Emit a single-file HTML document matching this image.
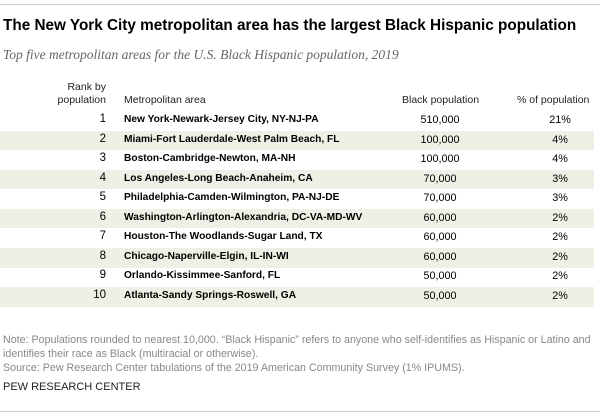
<!DOCTYPE html>
<html><head><meta charset="utf-8"><style>
body{margin:0;width:600px;height:416px;background:#fff;font-family:"Liberation Sans",sans-serif;position:relative;overflow:hidden}
.a{position:absolute;white-space:nowrap}
.hr{position:absolute;left:0;width:600px;height:1px;background:#ccc}
.row{position:absolute;left:0;width:594px;height:19.6px;font-size:10.8px;color:#000}
.row.s{background:#efefe6}
.row span{position:absolute;top:3px}
.hd{font-size:10.5px;color:#222}
.n{font-size:10.7px;color:#888}
</style></head><body>
<div class="hr" style="top:4px"></div>
<div class="a" style="left:3px;top:17px;font-size:15.3px;font-weight:bold;color:#000">The New York City metropolitan area has the largest Black Hispanic population</div>
<div class="a" style="left:3px;top:47px;font-size:13.5px;font-style:italic;color:#666;font-family:'Liberation Serif',serif">Top five metropolitan areas for the U.S. Black Hispanic population, 2019</div>
<div class="a hd" style="right:494px;top:81px;text-align:right;line-height:13px">Rank by<br>population</div>
<div class="a hd" style="left:124px;top:94px">Metropolitan area</div>
<div class="a hd" style="left:402px;top:94px">Black population</div>
<div class="a hd" style="left:517px;top:94px">% of population</div>
<div id="tbl"></div>
<div class="a n" style="left:3px;top:333px;line-height:14px">Note: Populations rounded to nearest 10,000. “Black Hispanic” refers to anyone who self-identifies as Hispanic or Latino and<br>identifies their race as Black (multiracial or otherwise).<br>Source: Pew Research Center tabulations of the 2019 American Community Survey (1% IPUMS).</div>
<div class="a" style="left:3px;top:381px;font-size:11px;color:#222">PEW RESEARCH CENTER</div>
<div class="hr" style="top:411px"></div>
<script>
const ranks=[1,2,3,4,5,6,7,8,9,10];
const metros=["New York-Newark-Jersey City, NY-NJ-PA","Miami-Fort Lauderdale-West Palm Beach, FL","Boston-Cambridge-Newton, MA-NH","Los Angeles-Long Beach-Anaheim, CA","Philadelphia-Camden-Wilmington, PA-NJ-DE","Washington-Arlington-Alexandria, DC-VA-MD-WV","Houston-The Woodlands-Sugar Land, TX","Chicago-Naperville-Elgin, IL-IN-WI","Orlando-Kissimmee-Sanford, FL","Atlanta-Sandy Springs-Roswell, GA"];
const pops=[510000,100000,100000,70000,70000,60000,60000,60000,50000,50000];
const pcts=[21,4,4,3,3,2,2,2,2,2];
const tbl=document.getElementById('tbl');
ranks.forEach((r,i)=>{
 const d=document.createElement('div');
 
 
 d.className='row'+(i%2?' s':'');
 d.style.top=(111+i*19.56)+'px';
 d.innerHTML='<span style="right:488px;font-size:11.5px;top:2px">'+r+'</span>'+
 '<span style="left:124px;font-weight:bold;font-size:10.2px">'+metros[i]+'</span>'+
 '<span style="left:400px;width:80px;text-align:center">'+pops[i].toLocaleString('en-US')+'</span>'+
 '<span style="left:530px;width:60px;text-align:center">'+pcts[i]+'%</span>';
 tbl.appendChild(d);
});
</script>
</body></html>
